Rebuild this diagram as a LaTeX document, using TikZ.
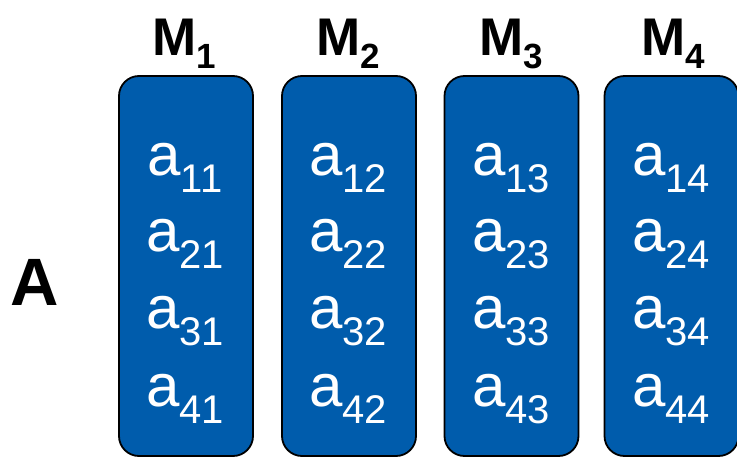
\documentclass[tikz,border=0pt]{standalone}
\usepackage{fontspec}
\setmainfont{Liberation Sans}
\definecolor{boxblue}{RGB}{0,92,172}
\newcommand{\entry}[1]{\fontsize{60}{60}\selectfont a\raisebox{-17pt}{\fontsize{40}{40}\selectfont #1}}
\newcommand{\mlab}[1]{\fontsize{53}{53}\selectfont\bfseries M\raisebox{-13pt}{\fontsize{35}{35}\selectfont\bfseries #1}}
\tikzset{
  colbox/.style={draw=black, line width=1.8pt, fill=boxblue, rounded corners=20pt,
    minimum width=134pt, minimum height=380pt, inner sep=0pt},
  ent/.style={anchor=base, inner sep=0pt, text=white},
  mhead/.style={anchor=base, inner sep=0pt, text=black}
}
\begin{document}
\begin{tikzpicture}[x=1pt,y=1pt]
\useasboundingbox (0,0) rectangle (737,-458);
\node[colbox] (b1) at (186,-266) {};
\node[colbox] (b2) at (349,-266) {};
\node[colbox] (b3) at (511.5,-266) {};
\node[colbox] (b4) at (671.5,-266) {};
\node[mhead] (m1) at (184,-55) {\mlab{1}};
\node[mhead] (m2) at (348,-55) {\mlab{2}};
\node[mhead] (m3) at (511,-55) {\mlab{3}};
\node[mhead] (m4) at (673,-55) {\mlab{4}};
\node[anchor=base, inner sep=0pt] (A) at (35,-305) {\fontsize{67}{67}\selectfont\bfseries A};
\foreach \c/\x in {1/185,2/348,3/511,4/671}{
  \foreach \r/\y in {1/175,2/251,3/328,4/406}{
    \node[ent] (a\r\c) at (\x,-\y) {\entry{\r\c}};
  }
}
\end{tikzpicture}
\end{document}
